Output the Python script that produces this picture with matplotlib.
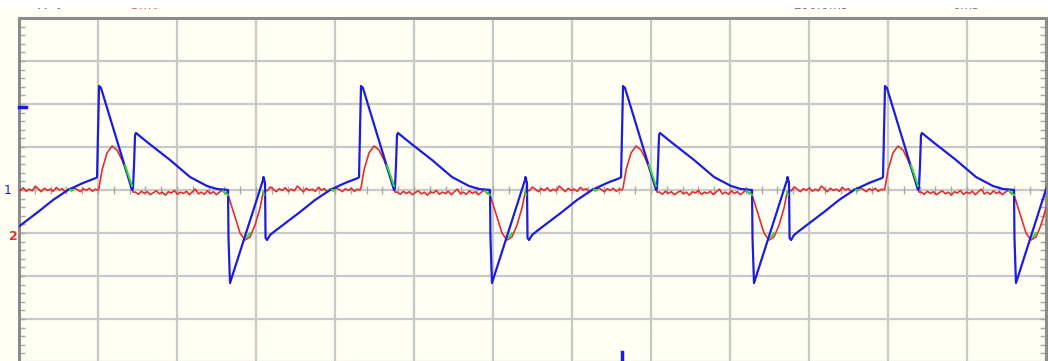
import numpy as np
import matplotlib.pyplot as plt
from matplotlib.patches import Rectangle

# time in divisions, amplitude in divisions (scope screen units)
cycle_starts = [-2.304, 1.013, 4.329, 7.646, 10.962]

# channel 1 (blue), one cycle relative to the main peak
ch1_t = [-0.025, -0.013, 0.0, 0.025, 0.418, 0.430, 0.443, 0.456, 0.468,
         0.608, 0.899, 1.152, 1.367, 1.494, 1.620, 1.633, 1.639, 1.658,
         2.076, 2.082, 2.101, 2.108, 2.127, 2.165, 2.228, 2.544, 2.734,
         2.924, 3.114, 3.278]
ch1_v = [0.302, 1.326, 2.419, 2.372, 0.0, 0.047, 0.581, 1.279, 1.326,
         1.116, 0.698, 0.302, 0.093, 0.023, 0.0, 0.0, -1.116, -2.163,
         0.233, 0.302, 0.163, -1.116, -1.163, -1.047, -0.953, -0.512, -0.233,
         0.0, 0.163, 0.279]

# channel 2 (red) pulses
ch2_pos_t = [-0.013, 0.0, 0.038, 0.101, 0.165, 0.228, 0.291, 0.354, 0.418, 0.430]
ch2_pos_v = [0.0, 0.047, 0.465, 0.860, 1.023, 0.930, 0.698, 0.395, 0.093, -0.047]
ch2_neg_t = [1.620, 1.646, 1.722, 1.785, 1.848, 1.911, 1.975, 2.038, 2.076, 2.101]
ch2_neg_v = [-0.047, -0.186, -0.628, -1.0, -1.163, -1.093, -0.814, -0.419, -0.070, 0.0]
ch2_base_after_pos = -0.07
ch2_base_after_neg = 0.0
ch2_ripple = [0.02, -0.03, 0.04, -0.01, 0.03, -0.04, 0.01, 0.05, -0.02, 0.02,
              -0.05, 0.03, 0.0, 0.06, -0.03, 0.02, -0.01, 0.04, -0.04, 0.03,
              0.09, -0.02, 0.02, -0.03, 0.05, -0.01, 0.03, -0.04, 0.02, 0.07, -0.02]

# segments where both traces overlap (drawn green)
overlap_segs = [([0.329, 0.418], [0.581, 0.093]),
                ([1.570, 1.633], [-0.023, -0.116]),
                ([1.873, 1.911], [-1.093, -1.0]),
                ([2.076, 2.089], [-0.047, -0.116]),
                ([2.949, 2.987], [0.0, 0.0])]

ch1_marker = 1.93
trigger_pos = 7.633

BG = '#fffff4'
GRID = '#c8c8c8'
BORDER = '#8c8c8c'
BLUE = '#1c1ce0'
RED = '#e03030'
GREEN = '#2ee02e'

W, H = 1048, 361
fig = plt.figure(figsize=(W / 100, H / 100), dpi=100)
fig.patch.set_facecolor(BG)
ax = fig.add_axes([19 / W, -1 / H, 1027 / W, 344 / H])
ax.set_facecolor(BG)
ax.set_xlim(0, 13)
ax.set_ylim(-4, 4)

ax.set_xticks(range(14))
ax.set_yticks(range(-4, 5))
ax.tick_params(length=0, labelbottom=False, labelleft=False)
ax.grid(True, color=GRID, lw=1.6)
ax.set_axisbelow(True)
for side in ['left', 'top', 'right']:
    ax.spines[side].set_color(BORDER)
    ax.spines[side].set_linewidth(2.2)
ax.spines['bottom'].set_visible(False)

# small division ticks
minor = np.arange(0, 13.01, 0.2)
ax.vlines(minor, -0.09, 0.09, color='#a8a8a8', lw=1)
yminor = np.arange(-4, 4.01, 0.2)
ax.hlines(yminor, 0, 0.07, color='#a8a8a8', lw=1)
ax.hlines(yminor, 12.93, 13, color='#a8a8a8', lw=1)

# channel 1 trace
t1, v1 = [], []
for s in cycle_starts:
    t1 += [s + t for t in ch1_t]
    v1 += ch1_v
ax.plot(t1, v1, color=BLUE, lw=1.6, zorder=4)

# channel 2 trace
base_a = np.linspace(0.46, 1.60, len(ch2_ripple))
base_b = np.linspace(2.13, 3.27, len(ch2_ripple))
t2, v2 = [], []
for s in cycle_starts:
    t2 += [s + t for t in ch2_pos_t]
    v2 += ch2_pos_v
    t2 += list(s + base_a)
    v2 += [ch2_base_after_pos + r for r in ch2_ripple]
    t2 += [s + t for t in ch2_neg_t]
    v2 += ch2_neg_v
    t2 += list(s + base_b)
    v2 += [ch2_base_after_neg + r for r in ch2_ripple[::-1]]
ax.plot(t2, v2, color=RED, lw=1.2, zorder=3)

for s in cycle_starts:
    for ts, vs in overlap_segs:
        ax.plot([s + t for t in ts], vs, color=GREEN, lw=1.4, zorder=5)

# channel offset / trigger markers
ax.plot([0, 0.09], [ch1_marker, ch1_marker], color=BLUE, lw=2.5,
        clip_on=False, zorder=6)
ax.plot([trigger_pos, trigger_pos], [-3.77, -4.1], color=BLUE, lw=2.5,
        clip_on=False, zorder=6)

fig.text(8 / W, 1 - 190 / H, '1', color=BLUE, fontsize=9,
         ha='center', va='center')
fig.text(13 / W, 1 - 236 / H, '2', color=RED, fontsize=9,
         ha='center', va='center', fontweight='bold')

# header readouts, mostly hidden under the top bar
fig.text(38 / W, 1 - 9 / H, 'A  V', color=BLUE, fontsize=9, va='baseline')
fig.text(131 / W, 1 - 9 / H, '5mV', color=RED, fontsize=9, va='baseline')
fig.text(793 / W, 1 - 9 / H, '200.0ms', color='#a03070', fontsize=9,
         va='baseline')
fig.text(952 / W, 1 - 9 / H, '0ms', color='#a03070', fontsize=9,
         va='baseline')
fig.add_artist(Rectangle((0, 1 - 7 / H), 1, 7 / H, transform=fig.transFigure,
                         color='white', zorder=10))

fig.savefig('out.png', dpi=100, facecolor=fig.get_facecolor())
